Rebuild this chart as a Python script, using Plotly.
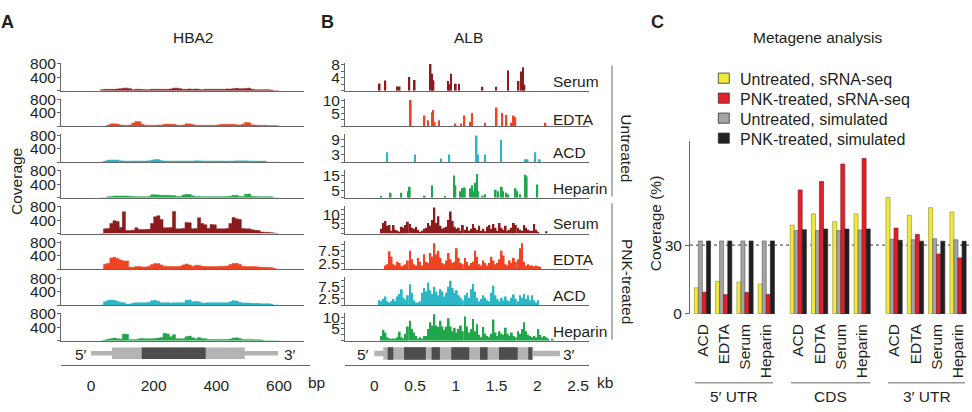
import plotly.graph_objects as go

W, H = 972, 412
def X(p): return p / W
def Y(p): return 1 - p / H

FONT = "Liberation Sans, Arial, Helvetica, sans-serif"
FS = 15.5
TXT = "#231f20"
AXC = "#666666"

# ---------------- data ----------------
samples = ["Serum", "EDTA", "ACD", "Heparin"]
sample_colors = ["#8b1b1d", "#ee4424", "#2cb7c7", "#20a64b"]

# Panel A: HBA2 coverage, 10-bp bins starting at 30 bp
hba2_bin_starts = list(range(30, 600, 10))
hba2_untreated_serum = [30,40,40,40,40,50,60,75,75,60, 30,40,40,35,30,30,40,40,40,40,
                        40,40,50,75,75,60,40,40,50,40, 50,40,30,40,40,40,40,40,40,40,
                        50,50,60,70,60,60,65,75,40,30, 30,30,30,30,20,0,0]
hba2_untreated_edta = [0,0,40,75,75,70,40,35,35,40, 100,145,140,60,35,35,35,35,40,40,
                       65,70,65,60,40,35,40,75,75,55, 35,35,35,35,35,35,35,40,60,65,
                       65,60,65,50,40,70,115,110,45,40, 35,35,35,30,30,25,20]
hba2_untreated_acd = [0,30,60,65,65,60,40,35,30,30, 35,35,35,35,35,40,60,75,75,45,
                      35,35,35,30,35,35,35,35,35,35, 40,40,35,35,35,35,35,35,35,30,
                      30,35,35,40,40,40,40,35,35,30, 30,30,30,0,0,0,0]
hba2_untreated_heparin = [0,0,30,40,55,55,55,55,55,50, 40,35,35,35,35,40,90,95,85,75,
                          75,75,70,70,45,40,85,105,100,60, 40,40,35,35,35,35,35,35,35,35,
                          40,45,75,75,50,40,110,115,45,40, 35,35,35,35,30,0,0]
hba2_pnk_serum = [0,140,150,300,380,360,180,650,90,90, 100,170,120,120,120,130,300,500,530,420,
                  170,170,180,660,140,140,150,330,320,140, 150,470,300,260,150,270,260,140,140,140,
                  150,300,480,440,420,150,140,140,110,100, 90,50,40,40,30,20,0]
hba2_pnk_edta = [0,150,180,340,360,320,280,250,250,60, 60,80,80,70,70,90,140,170,170,130,
                 90,90,80,80,80,90,130,160,130,90, 120,120,90,80,80,80,80,80,90,90,
                 100,140,170,180,150,90,80,80,80,80, 70,60,60,60,50,30,0]
hba2_pnk_acd = [0,100,140,150,140,110,80,70,30,30, 60,70,70,70,70,80,130,140,110,70,
                70,70,60,70,70,70,70,140,150,100, 110,100,60,60,70,70,70,70,70,70,
                70,100,130,120,80,60,60,60,50,50, 50,40,40,40,30,0,0]
hba2_pnk_heparin = [0,20,50,60,80,60,50,200,190,40, 40,40,60,70,60,60,60,70,80,100,
                    220,200,120,180,60,60,60,120,140,90, 60,100,70,60,40,40,40,40,40,40,
                    40,50,80,90,70,40,40,40,40,30, 30,20,0,0,0,0,0]

# Panel B: ALB, untreated = sparse spikes (position kb, coverage)
alb_unt_serum_pos = [0.065,0.135,0.285,0.31,0.43,0.495,0.69,0.708,0.726,0.905,0.92,0.94,1.0,1.04,
                     1.326,1.495,1.64,1.77,1.81,1.826,1.842]
alb_unt_serum_val = [2.2,3.1,1.3,1.3,4.2,3.3,8.2,5.2,3.2,3.0,2.0,5.2,2.1,2.1,1.2,1.2,6.2,3.0,5.9,7.2,1.8]
alb_unt_edta_pos = [0.447,0.615,0.66,0.708,0.722,0.74,0.795,0.995,1.065,1.105,1.18,1.2,1.36,1.5,
                    1.57,1.62,1.68,1.71,1.73,2.1]
alb_unt_edta_val = [10.3,4.3,2.4,5.5,6.4,1.8,2.4,1.1,1.1,4.3,1.8,5.2,1.4,7.4,5.2,4.5,1.4,4.3,3.6,1.4]
alb_unt_acd_pos = [0.155,0.5,0.82,0.92,1.255,1.272,1.36,1.555,1.86,1.88,1.975,2.03]
alb_unt_acd_val = [3.9,3.0,1.4,3.0,10.5,3.0,3.0,8.7,1.1,1.1,3.9,1.1]
alb_unt_heparin_pos = [0.085,0.2,0.33,0.42,0.435,0.62,0.71,0.87,0.98,0.995,1.06,1.08,1.11,1.18,1.2,
                       1.225,1.245,1.26,1.275,1.33,1.36,1.49,1.52,1.565,1.58,1.615,1.64,1.735,1.755,
                       1.79,1.855,1.87,2.0]
alb_unt_heparin_val = [1.4,3.4,3.4,4.4,7.5,1.4,8.5,1.4,15,8.5,4.4,6.5,6.9,6.5,8.5,4.4,10.1,16,4.4,
                       1.4,2.4,5.5,4.4,7.5,4.4,3.4,2.4,6.5,4.4,2.4,15.5,14.5,8.9]

# ALB PNK-treated: 25-nt bins from 0 kb
alb_bin_starts = [round(0.025 * i, 4) for i in range(88)]
alb_pnk_serum = [0,0,0,2.5,5.5,6.5,4,4.5,1.5,4.5, 2,1.5,1,3.5,3,4.5,6.2,5,3,2.5,
                 3.5,2,1,1.5,2.5,3,5.5,4,7,13.5, 5.5,9,4,2.5,3,3.5,7,11.5,6.5,3.5,
                 2.5,3,1.5,4.5,2,3.5,1.5,2.5,5,3, 2,4,1.5,2.5,1.2,3.5,4.5,2.5,5,3,
                 1.5,5.5,3,2,4,1.5,2,3,5.5,4.5, 3,2,1.5,4.5,3,2,1.5,1.5,5,2,
                 1,0,0,0,1.2,0,0,0]
alb_pnk_edta = [0,0,0,0,0,1.5,2,7.2,5,2, 1.5,3,2.5,1.2,1.5,2,3.5,7.5,4,2,
                1.5,4.5,3,1.5,6,3,2.5,6.5,5,10.5, 6,7.5,4.5,2.5,2,3.5,6.5,4,2.5,3,
                8.5,4.5,2.5,2,4.5,3,1.5,2.5,3,7.5, 5,2,1.5,3.5,2.5,1.5,2.5,5,3.5,2,
                2.5,4,7.5,5.5,2,1.5,3.5,2.5,4.5,3, 4,8.5,10.5,3,1.5,2,1.5,1.5,1.2,1.5,
                1.2,1,0,0,0,0,0,0]
alb_pnk_acd = [0,0,2,1.5,2.5,3.5,1.5,1,1.5,2.5, 1.5,3.5,4.5,6.5,3,2,4,8.5,5,2,
               1,1,1.5,5,7,5.5,9.2,6,4.5,7.5, 5.5,4,6.5,5.5,3.5,5,7.5,9.9,7,5,
               6,4,3,2,4,5,3,6.5,8.6,5.5, 3,1.5,2.5,4,3,2,1.5,5,7.9,4,
               2.5,1.5,3,2,3.5,2,1.5,3,4.3,2.5, 1.5,4,3,4.5,2.5,4,2,4,2,1,
               2,0,0,0,0,0,0,0]
alb_pnk_heparin = [0,0,0,2,4.5,3.5,1.5,1,0.5,1, 0.5,1.5,3.8,1.5,1,3,6,8.5,5,3.5,
                   2,1,1.5,1,2,2,5,7.8,6.5,11.2, 6.5,5.8,8.5,6,4.5,6,9.5,6,4,5.5,
                   3.5,5,6.5,4,10.3,6,3.5,5,9.2,4, 7,2.5,1.5,5.8,3,2,1.5,3,9,3.5,
                   2,4,3,2.5,5.5,3,2,3.5,2,1.5, 4,3,5,7.8,4,2.5,2,1.5,2,1.5,
                   5,2.5,1.5,2,1.5,0.5,0,0.8]

# Gene models
hba2_line = (0, 597)
hba2_exon = (67, 491)
hba2_cds = [(162, 366)]
alb_line = (0, 2.28)
alb_exon = (0.11, 1.95)
alb_dark = [(0.164, 0.233), (0.365, 0.632), (0.703, 0.805), (0.944, 1.165),
            (1.297, 1.39), (1.53, 1.759), (1.889, 1.938)]

# Panel C: metagene coverage (%)
regions = ["5′ UTR", "CDS", "3′ UTR"]
c_samples = ["ACD", "EDTA", "Serum", "Heparin"]
untreated_srna = [11.4, 14.2, 13.9, 13.0, 38.7, 43.6, 40.2, 43.6, 50.7, 43.0, 46.3, 44.4]
untreated_sim = [31.8, 31.8, 31.8, 31.8, 36.3, 36.3, 36.3, 36.6, 32.5, 32.3, 32.8, 32.3]
pnk_srna = [9.5, 8.4, 9.3, 8.5, 54.0, 57.7, 65.3, 67.7, 37.4, 34.6, 26.1, 24.4]
pnk_sim = [31.8, 31.8, 31.8, 31.8, 36.7, 37.0, 37.0, 37.0, 32.1, 31.7, 31.7, 31.7]
legend_labels = ["Untreated, sRNA-seq", "PNK-treated, sRNA-seq", "Untreated, simulated", "PNK-treated, simulated"]

# ---------------- figure ----------------
fig = go.Figure()
layout = {}
shapes = []
annos = []

def ax_names(i):
    return ("x" if i == 1 else f"x{i}", "y" if i == 1 else f"y{i}",
            "xaxis" if i == 1 else f"xaxis{i}", "yaxis" if i == 1 else f"yaxis{i}")

def text(x, y, s, size=FS, xanchor="center", yanchor="middle", angle=0, bold=False):
    if bold:
        s = f"<b>{s}</b>"
    annos.append(dict(x=X(x), y=Y(y), xref="paper", yref="paper", text=s, showarrow=False,
                      xanchor=xanchor, yanchor=yanchor, textangle=angle,
                      font=dict(family=FONT, size=size, color=TXT)))

def track_axes(i, xdom, xrange, base, height, yrange, tickvals, ticktext):
    xn, yn, xk, yk = ax_names(i)
    layout[xk] = dict(domain=[X(xdom[0]), X(xdom[1])], range=xrange, anchor=yn,
                      showline=True, linecolor=AXC, linewidth=1.3, ticks="", showticklabels=False,
                      showgrid=False, zeroline=False, fixedrange=True)
    layout[yk] = dict(domain=[Y(base), Y(base - height)], range=yrange, anchor=xn,
                      showline=True, linecolor=AXC, linewidth=1, ticks="outside", ticklen=3,
                      tickcolor=AXC, tickwidth=1, tickvals=tickvals, ticktext=ticktext,
                      tickfont=dict(family=FONT, size=FS, color=TXT), showgrid=False,
                      zeroline=False, fixedrange=True, ticklabelstandoff=-2)
    return xn, yn

# ---- Panel A ----
A_xdom = (61, 304)
A_scale = 0.3133  # px per bp
A_zero = 91
A_range = [(A_xdom[0] - A_zero) / A_scale, (A_xdom[1] - A_zero) / A_scale]
hba2_sets = [hba2_untreated_serum, hba2_untreated_edta, hba2_untreated_acd, hba2_untreated_heparin,
             hba2_pnk_serum, hba2_pnk_edta, hba2_pnk_acd, hba2_pnk_heparin]
bases = [86 + 37.17 * k for k in range(8)]
for k, vals in enumerate(hba2_sets):
    idx = k + 1
    xn, yn = track_axes(idx, A_xdom, A_range, bases[k], 29, [0, 830],
                        [0, 400, 800], ["", "400", "800"])
    col = sample_colors[k % 4]
    xs = hba2_bin_starts + [hba2_bin_starts[-1] + 10]
    ys = vals + [0]
    fig.add_trace(go.Scatter(x=xs, y=ys, xaxis=xn, yaxis=yn, mode="lines",
                             line=dict(width=0.5, color=col, shape="hv"), fill="tozeroy",
                             fillcolor=col, opacity=0.8 if k < 4 else 1.0,
                             showlegend=False, hoverinfo="skip"))

# bottom axis A (gene model lives in this axis)
A_bot_range = [A_range[0], (310 - A_zero) / A_scale]
layout["xaxis9"] = dict(domain=[X(61), X(310)], range=A_bot_range, anchor="y9", showline=True,
                        linecolor=AXC, linewidth=1.3, ticks="", tickvals=[0, 200, 400, 600],
                        tickfont=dict(family=FONT, size=FS, color=TXT), showgrid=False,
                        zeroline=False, fixedrange=True, ticklabelstandoff=7)
layout["yaxis9"] = dict(domain=[Y(371), Y(349)], range=[0, 22], anchor="x9", visible=False, fixedrange=True)
fig.add_trace(go.Scatter(x=[0], y=[0], xaxis="x9", yaxis="y9", mode="markers",
                         marker=dict(opacity=0), showlegend=False, hoverinfo="skip"))

def gene_model(xr, yr, line, exon, darks, yc, thin, thick):
    shapes.append(dict(type="rect", xref=xr, yref=yr, x0=line[0], x1=line[1], y0=yc - thin / 2,
                       y1=yc + thin / 2, fillcolor="#b3b3b3", line=dict(width=0), layer="above"))
    shapes.append(dict(type="rect", xref=xr, yref=yr, x0=exon[0], x1=exon[1], y0=yc - thick / 2,
                       y1=yc + thick / 2, fillcolor="#b3b3b3", line=dict(width=0), layer="above"))
    for a, b in darks:
        shapes.append(dict(type="rect", xref=xr, yref=yr, x0=a, x1=b, y0=yc - thick / 2,
                           y1=yc + thick / 2, fillcolor="#4d4d4d", line=dict(width=0), layer="above"))

gene_model("x9", "y9", hba2_line, hba2_exon, hba2_cds, 11.8, 4.8, 11.8)
text(81, 360, "5′")
text(290, 360, "3′")
text(306, 390, "bp", xanchor="left")

# ---- Panel B ----
B_xdom = (345, 589)
B_scale = 81.5
B_zero = 374.3
B_range = [(B_xdom[0] - B_zero) / B_scale, (B_xdom[1] - B_zero) / B_scale]
B_y = [
    ([0, 8.6], [0, 2, 4, 6, 8], ["", "", "4", "", "8"]),
    ([0, 10.9], [0, 2.5, 5, 7.5, 10], ["", "", "5", "", "10"]),
    ([0, 11.0], [0, 3, 6, 9], ["", "3", "", "9"]),
    ([0, 18.7], [0, 5, 10, 15], ["", "5", "", "15"]),
    ([0, 14.5], [0, 2.5, 5, 7.5, 10, 12.5], ["", "", "5", "", "10", ""]),
    ([0, 11.2], [0, 2.5, 5, 7.5, 10], ["", "2.5", "", "7.5", ""]),
    ([0, 11.4], [0, 2.5, 5, 7.5, 10], ["", "2.5", "", "7.5", ""]),
    ([0, 11.8], [0, 2.5, 5, 7.5, 10], ["", "", "5", "", "10"]),
]
unt_pos = [alb_unt_serum_pos, alb_unt_edta_pos, alb_unt_acd_pos, alb_unt_heparin_pos]
unt_val = [alb_unt_serum_val, alb_unt_edta_val, alb_unt_acd_val, alb_unt_heparin_val]
pnk_sets = [alb_pnk_serum, alb_pnk_edta, alb_pnk_acd, alb_pnk_heparin]
for k in range(8):
    idx = 10 + k
    yr, tv, tt = B_y[k]
    xn, yn = track_axes(idx, B_xdom, B_range, bases[k], 29, yr, tv, tt)
    col = sample_colors[k % 4]
    if k < 4:
        fig.add_trace(go.Bar(x=unt_pos[k], y=unt_val[k], xaxis=xn, yaxis=yn, width=0.022,
                             marker=dict(color=col, line=dict(width=0)), showlegend=False,
                             hoverinfo="skip"))
    else:
        fig.add_trace(go.Bar(x=alb_bin_starts, y=pnk_sets[k - 4], xaxis=xn, yaxis=yn,
                             width=0.0225, offset=0.001,
                             marker=dict(color=col, line=dict(width=0)), showlegend=False,
                             hoverinfo="skip"))
    lab_off = 7 if k == 1 else 10
    text(551, bases[k] - lab_off, samples[k % 4], xanchor="left")

layout["xaxis18"] = dict(domain=[X(B_xdom[0]), X(B_xdom[1])], range=B_range, anchor="y18",
                         showline=True, linecolor=AXC, linewidth=1.3, ticks="",
                         tickvals=[0, 0.5, 1, 1.5, 2, 2.5], ticktext=["0", "0.5", "1", "1.5", "2", "2.5"],
                         tickfont=dict(family=FONT, size=FS, color=TXT), showgrid=False,
                         zeroline=False, fixedrange=True, ticklabelstandoff=7)
layout["yaxis18"] = dict(domain=[Y(371), Y(349)], range=[0, 22], anchor="x18", visible=False, fixedrange=True)
fig.add_trace(go.Scatter(x=[0], y=[0], xaxis="x18", yaxis="y18", mode="markers",
                         marker=dict(opacity=0), showlegend=False, hoverinfo="skip"))
gene_model("x18", "y18", alb_line, alb_exon, alb_dark, 11.5, 5.6, 13)
text(363, 360, "5′")
text(569, 360, "3′")
text(595, 390, "kb", xanchor="left")

# brackets
shapes.append(dict(type="line", xref="paper", yref="paper", x0=X(612), x1=X(612), y0=Y(60), y1=Y(196),
                   line=dict(color=AXC, width=1)))
shapes.append(dict(type="line", xref="paper", yref="paper", x0=X(612), x1=X(612), y0=Y(203), y1=Y(345),
                   line=dict(color=AXC, width=1)))
text(627, 146, "Untreated", angle=90)
text(627, 284, "PNK-treated", angle=90)

# ---- Panel C ----
cat_pos = []
cat_text = []
for g in range(len(regions)):
    for s in range(len(c_samples)):
        cat_pos.append(g * 4.5 + s)
        cat_text.append(c_samples[s])
c_px_per_unit = 21.3
bar_w = 0.19
series = [
    (untreated_srna, "#f1ea3b", "#8c8520", -0.385),
    (untreated_sim, "#a3a3a3", "#5a5a5a", -0.197),
    (pnk_srna, "#e3202a", "#7a1015", -0.009),
    (pnk_sim, "#231f20", "#231f20", 0.187),
]
for vals, fc, lc, off in series:
    fig.add_trace(go.Bar(x=cat_pos, y=vals, xaxis="x19", yaxis="y19", width=bar_w, offset=off,
                         marker=dict(color=fc, line=dict(color=lc, width=0.6)),
                         showlegend=False, hoverinfo="skip"))
C_range = [(690 - 702.5) / c_px_per_unit, (970 - 702.5) / c_px_per_unit]
layout["xaxis19"] = dict(domain=[X(690), X(970)], range=C_range, anchor="y19", showline=False,
                         ticks="", tickvals=cat_pos, ticktext=cat_text, tickangle=-90,
                         tickfont=dict(family=FONT, size=FS, color=TXT), showgrid=False,
                         zeroline=False, fixedrange=True, ticklabelstandoff=6)
layout["yaxis19"] = dict(domain=[Y(318.3), Y(138)], range=[0, 75.5], anchor="x19", showline=True,
                         linecolor=AXC, linewidth=1, ticks="outside", ticklen=4, tickcolor=AXC,
                         tickvals=[0, 30], tickfont=dict(family=FONT, size=FS, color=TXT),
                         showgrid=False, zeroline=False, fixedrange=True, ticklabelstandoff=0)
shapes.append(dict(type="line", xref="paper", yref="y19", x0=X(690), x1=X(970), y0=30, y1=30,
                   line=dict(color="#333333", width=1, dash="dot"), layer="below"))
for g, (a, b) in enumerate([(695, 773), (791, 870), (888, 965)]):
    shapes.append(dict(type="line", xref="paper", yref="paper", x0=X(a), x1=X(b), y0=Y(390), y1=Y(390),
                       line=dict(color=AXC, width=1)))
    text((a + b) / 2, 404, regions[g])
text(655, 224, "Coverage (%)", angle=-90)

leg_fill = ["#f1ea3b", "#e3202a", "#a3a3a3", "#231f20"]
for k, lab in enumerate(legend_labels):
    yc = 73 + 20.8 * k
    shapes.append(dict(type="rect", xref="paper", yref="paper", x0=X(718.3), x1=X(729.3),
                       y0=Y(yc + 5.3), y1=Y(yc - 5.3), fillcolor=leg_fill[k],
                       line=dict(color="#333333", width=0.8)))
    text(737.5, yc + 1, lab, size=16, xanchor="left")

# ---- titles / panel letters ----
text(7, 15, "A", size=18, xanchor="center", bold=True)
text(327, 15, "B", size=18, xanchor="center", bold=True)
text(657, 15, "C", size=18, xanchor="center", bold=True)
text(193, 31, "HBA2")
text(468, 31, "ALB")
text(817, 31, "Metagene analysis")
text(17, 181, "Coverage", angle=-90)

fig.update_layout(**layout)
fig.update_layout(width=W, height=H, autosize=False, margin=dict(l=0, r=0, t=0, b=0),
                  paper_bgcolor="white", plot_bgcolor="white", barmode="overlay",
                  shapes=shapes, annotations=annos, showlegend=False,
                  font=dict(family=FONT, size=FS, color=TXT))
fig.write_html("out.html")
